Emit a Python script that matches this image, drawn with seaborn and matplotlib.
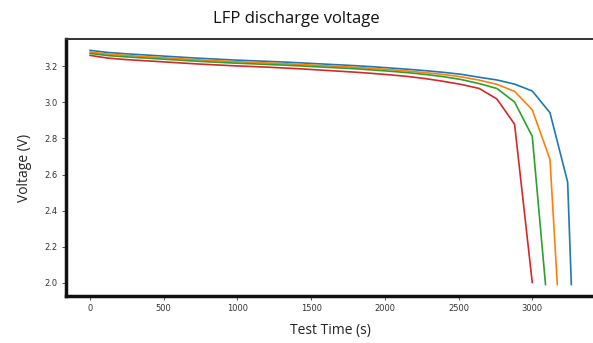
import matplotlib
matplotlib.use("Agg")
import matplotlib.pyplot as plt
import seaborn as sns
import pandas as pd

# Test time samples (s)
time_s = [0, 120, 240, 360, 480, 600, 720, 840, 960, 1080, 1200, 1320, 1440,
          1560, 1680, 1800, 1920, 2040, 2160, 2280, 2400, 2520, 2640, 2760,
          2880, 3000, 3120, 3240]

cell1_t = time_s + [3265]
cell1_v = [3.287, 3.275, 3.268, 3.262, 3.256, 3.250, 3.244, 3.239, 3.234, 3.230,
           3.226, 3.222, 3.217, 3.212, 3.207, 3.202, 3.196, 3.189, 3.182, 3.174,
           3.165, 3.154, 3.138, 3.123, 3.100, 3.062, 2.942, 2.558, 1.990]

cell2_t = time_s[:27] + [3170]
cell2_v = [3.278, 3.266, 3.259, 3.253, 3.247, 3.241, 3.235, 3.230, 3.225, 3.221,
           3.217, 3.213, 3.208, 3.203, 3.198, 3.193, 3.187, 3.180, 3.172, 3.163,
           3.153, 3.140, 3.122, 3.099, 3.060, 2.958, 2.684, 1.990]

cell3_t = time_s[:26] + [3090]
cell3_v = [3.270, 3.258, 3.251, 3.245, 3.239, 3.233, 3.227, 3.222, 3.217, 3.213,
           3.209, 3.205, 3.200, 3.195, 3.190, 3.185, 3.178, 3.171, 3.163, 3.153,
           3.141, 3.125, 3.103, 3.076, 3.001, 2.811, 1.990]

cell4_t = time_s[:26]
cell4_v = [3.259, 3.244, 3.236, 3.230, 3.224, 3.218, 3.212, 3.207, 3.202, 3.198,
           3.194, 3.189, 3.184, 3.178, 3.172, 3.166, 3.159, 3.151, 3.142, 3.130,
           3.115, 3.098, 3.076, 3.018, 2.878, 2.002]

frames = []
for name, t, v in [("cell1", cell1_t, cell1_v), ("cell2", cell2_t, cell2_v),
                   ("cell3", cell3_t, cell3_v), ("cell4", cell4_t, cell4_v)]:
    frames.append(pd.DataFrame({"time": t, "voltage": v, "cell": name}))
df = pd.concat(frames, ignore_index=True)

sns.set_style("white")
plt.rcParams["font.family"] = ["DejaVu Sans"]

fig = plt.figure(figsize=(5.93, 3.43), dpi=100)
ax = fig.add_axes([0.111, 0.137, 0.893, 0.749])

sns.lineplot(data=df, x="time", y="voltage", hue="cell",
             palette=["#1f77b4", "#ff7f0e", "#2ca02c", "#d62728"],
             linewidth=1.2, legend=False, ax=ax, estimator=None, sort=False)

ax.set_xlim(-163.5, 3428)
ax.set_ylim(1.928, 3.349)
ax.set_xticks([0, 500, 1000, 1500, 2000, 2500, 3000])
ax.set_yticks([2.0, 2.2, 2.4, 2.6, 2.8, 3.0, 3.2])
ax.set_yticklabels(["2.0", "2.2", "2.4", "2.6", "2.8", "3.0", "3.2"])
ax.tick_params(axis="both", which="major", labelsize=6, colors="#333333",
               length=3, width=0.6, direction="out", pad=3,
               bottom=True, left=True)

for side, lw, col in [("left", 2.5, "#111111"), ("bottom", 2.5, "#111111"),
                      ("top", 1.4, "#333333")]:
    ax.spines[side].set_visible(True)
    ax.spines[side].set_linewidth(lw)
    ax.spines[side].set_color(col)
ax.spines["right"].set_visible(False)

ax.set_xlabel("Test Time (s)", fontsize=10, family="Open Sans", color="#222222", labelpad=7)
ax.set_ylabel("Voltage (V)", fontsize=10, family="Open Sans", color="#222222", labelpad=9)
fig.text(0.5, 0.945, "LFP discharge voltage", ha="center", va="center",
         fontsize=12, family="Open Sans", color="#111111")

fig.savefig("out.png", dpi=100)
